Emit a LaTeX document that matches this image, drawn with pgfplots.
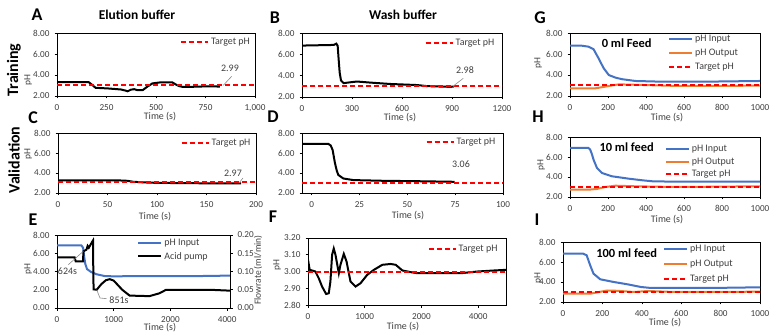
\documentclass[border=0pt]{standalone}
\usepackage{pgfplots}
\pgfplotsset{compat=1.18}
\usepackage{fontspec}
\setmainfont{Carlito}
\definecolor{xlblue}{HTML}{4472C4}
\definecolor{xlorange}{HTML}{ED7D31}
\definecolor{xlred}{HTML}{FF0000}
\definecolor{lbl}{HTML}{404040}
\definecolor{ldr}{HTML}{8C8C8C}
\pgfplotsset{
  panel/.style={
    scale only axis, anchor=south west,
    axis line style={black, line width=0.9bp},
    /pgf/number format/assume math mode=true,
    /pgf/number format/1000 sep={},
    tick label style={font=\fontsize{9.2}{10}\selectfont, text=lbl},
    xticklabel style={yshift=-2.5bp},
    yticklabel style={xshift=-1.5bp, /pgf/number format/fixed, /pgf/number format/fixed zerofill, /pgf/number format/precision=2},
    xtick pos=left, ytick pos=left,
    tick align=outside, major tick length=2.5bp,
    tick style={black, line width=0.6bp},
    legend style={draw=none, fill=none, inner sep=0pt, font=\fontsize{10}{11}\selectfont, text=lbl},
    legend cell align=left,
    legend image code/.code={\draw[##1] (0bp,0bp) -- (27bp,0bp);},
  },
  glegend/.style={
    legend image code/.code={\draw[##1] (0bp,0bp) -- (23bp,0bp);},
    legend style={row sep=#1},
  },
  trace/.style={draw=black, line width=2bp, forget plot},
  target/.style={draw=xlred, line width=2bp, dash pattern=on 5bp off 3bp},
  inp/.style={draw=xlblue, line width=2bp},
  outp/.style={draw=xlorange, line width=2bp},
}
\begin{document}
\begin{tikzpicture}
\useasboundingbox (0,0) rectangle (770bp,335bp);
\fill[white] (0,0) rectangle (770bp,335bp);

% ---------- A ----------
\begin{axis}[panel, at={(57bp,239bp)}, width=198bp, height=63bp,
  xmin=0, xmax=1000, ymin=2, ymax=8,
  xtick={0,250,500,750,1000}, xticklabels={0,250,500,750,{1,000}}, ytick={2,4,6,8},
  legend style={at={(0.985,0.857)}, anchor=east}]
\addplot[trace] coordinates {(0,3.32)(160,3.32)(175,3.1)(195,2.78)(257,2.72)(323,2.62)(345,2.52)(357,2.45)(373,2.6)(390,2.65)(407,2.55)(432,2.55)(457,2.9)(482,3.2)(523,3.3)(582,3.3)(600,3.1)(615,2.95)(632,2.88)(690,2.88)(757,2.92)(823,2.9)};
\addplot[target] coordinates {(0,3)(1000,3)};
\addlegendentry{Target pH}
\end{axis}

% ---------- B ----------
\begin{axis}[panel, at={(302bp,238bp)}, width=200bp, height=64bp,
  xmin=0, xmax=1200, ymin=2, ymax=8,
  xtick={0,300,600,900,1200}, ytick={2,4,6,8},
  legend style={at={(0.973,0.844)}, anchor=east}]
\addplot[trace] coordinates {(0,6.82)(190,6.88)(206,7.0)(214,6.8)(220,5.5)(226,4.3)(234,3.55)(250,3.3)(290,3.38)(330,3.45)(410,3.35)(530,3.22)(690,3.12)(750,3.02)(890,2.95)(910,2.98)};
\addplot[target] coordinates {(0,3)(1200,3)};
\addlegendentry{Target pH}
\end{axis}

% ---------- C ----------
\begin{axis}[panel, at={(58bp,142bp)}, width=198bp, height=60bp,
  xmin=0, xmax=200, ymin=2, ymax=8,
  xtick={0,50,100,150,200}, ytick={2,4,6,8},
  legend style={at={(0.983,0.828)}, anchor=east}]
\addplot[trace] coordinates {(0,3.27)(59,3.27)(70,3.22)(76,3.12)(93,3.03)(127,2.98)(185,2.96)};
\addplot[target] coordinates {(0,3.08)(200,3.08)};
\addlegendentry{Target pH}
\end{axis}

% ---------- D ----------
\begin{axis}[panel, at={(302bp,142bp)}, width=201bp, height=60bp,
  xmin=-5, xmax=100, ymin=2, ymax=8,
  xtick={0,25,50,75,100}, ytick={2,4,6,8},
  legend style={at={(0.973,0.845)}, anchor=east}]
\addplot[trace] coordinates {(-5,6.9)(8.7,6.92)(10,6.75)(11,6.3)(12.2,5.0)(13.2,4.2)(14,3.8)(16.6,3.45)(21.9,3.29)(37.6,3.22)(55,3.18)(74.7,3.12)};
\addplot[target] coordinates {(-5,3)(100,3)};
\addlegendentry{Target pH}
\end{axis}

% ---------- E ----------
\begin{axis}[panel, at={(57bp,27bp)}, width=173bp, height=73bp,
  xmin=0, xmax=3050, ymin=0, ymax=8,
  xtick={0,1000,2000,3000}, xticklabels={0,1000,2000,4000}, ytick={0,2,4,6,8}]
\addplot[inp] coordinates {(0,6.86)(430,6.86)(460,6.6)(480,5.6)(500,4.8)(530,4.26)(600,3.95)(696,3.7)(842,3.5)(1000,3.47)(1500,3.5)(2000,3.5)(2500,3.5)(3050,3.55)};
\end{axis}
\begin{axis}[panel, at={(57bp,27bp)}, width=173bp, height=73bp,
  xmin=0, xmax=3050, ymin=0, ymax=0.2,
  axis x line=none, axis y line*=right,
  ytick pos=right, yticklabel pos=right,
  ytick={0,0.05,0.1,0.15,0.2},
  yticklabel style={xshift=3bp},
  glegend=1bp,
  legend style={at={(0.884,0.97)}, anchor=north east}]
\addlegendimage{inp}
\addlegendentry{pH Input}
\addplot[draw=black, line width=2bp] coordinates {(0,0.139)(310,0.139)(330,0.1275)(460,0.1275)(465,0.155)(520,0.16)(540,0.17)(560,0.165)(625,0.1825)(635,0.185)(640,0.1)(645,0.051)(700,0.05)(780,0.065)(860,0.076)(930,0.079)(1000,0.075)(1150,0.05)(1280,0.034)(1630,0.0325)(1800,0.04)(1925,0.05)(2685,0.05)(3050,0.0475)};
\addlegendentry{Acid pump}
\end{axis}

% ---------- F ----------
\begin{axis}[panel, at={(308bp,30bp)}, width=198bp, height=67bp,
  xmin=0, xmax=3490, ymin=2.8, ymax=3.2,
  xtick={0,1000,2000,3000}, xticklabels={0,1000,2000,4000}, ytick={2.8,2.9,3.0,3.1,3.2},
  legend style={at={(0.968,0.84)}, anchor=east}]
\addplot[trace] coordinates {(0,3.07)(30,3.01)(71,3.006)(130,3.0)(189,2.96)(248,2.91)(319,2.866)(366,2.87)(395,2.94)(425,3.10)(454,3.137)(484,3.10)(543,2.99)(572,3.04)(631,3.105)(679,3.06)(749,2.94)(838,2.91)(926,2.93)(1044,2.98)(1162,3.01)(1310,3.04)(1457,3.045)(1546,3.04)(1664,3.006)(1811,2.996)(1929,2.99)(2283,2.99)(2696,2.99)(2991,3.0)(3227,3.005)(3490,3.01)};
\addplot[target] coordinates {(0,3)(3490,3)};
\addlegendentry{Target pH}
\end{axis}

% ---------- G ----------
\begin{axis}[panel, at={(570bp,239bp)}, width=190bp, height=63bp,
  xmin=0, xmax=1000, ymin=2, ymax=8,
  xtick={0,200,400,600,800,1000}, ytick={2,4,6,8},
  glegend=2bp,
  legend style={at={(0.895,1.0)}, anchor=north east}]
\addplot[inp] coordinates {(0,6.79)(62,6.79)(97,6.7)(124,6.45)(150,5.6)(177,4.65)(204,4.0)(239,3.75)(274,3.6)(345,3.43)(469,3.37)(735,3.37)(1000,3.43)};
\addlegendentry{pH Input}
\addplot[outp] coordinates {(0,2.73)(133,2.73)(204,2.95)(257,3.11)(380,3.05)(558,2.96)(1000,2.98)};
\addlegendentry{pH Output}
\addplot[target] coordinates {(0,3)(1000,3)};
\addlegendentry{Target pH}
\end{axis}

% ---------- H ----------
\begin{axis}[panel, at={(570bp,138bp)}, width=190bp, height=60bp,
  xmin=0, xmax=1000, ymin=2, ymax=8,
  xtick={0,200,400,600,800,1000}, ytick={2,4,6,8},
  glegend=0.5bp,
  legend style={at={(0.877,0.9)}, anchor=north east}]
\addplot[inp] coordinates {(0,6.9)(97,6.9)(106,6.75)(115,6.3)(124,5.73)(142,4.9)(168,4.4)(221,4.07)(310,3.83)(381,3.67)(434,3.57)(558,3.53)(1000,3.53)};
\addlegendentry{pH Input}
\addplot[outp] coordinates {(0,2.73)(97,2.73)(140,2.8)(186,3.0)(239,3.13)(345,3.07)(558,3.0)(1000,3.07)};
\addlegendentry{pH Output}
\addplot[target] coordinates {(0,3)(1000,3)};
\addlegendentry{Target pH}
\end{axis}

% ---------- I ----------
\begin{axis}[panel, at={(563bp,33bp)}, width=197bp, height=60bp,
  xmin=0, xmax=1000, ymin=2, ymax=8,
  xtick={0,200,400,600,800,1000}, ytick={2,4,6,8},
  glegend=3bp,
  legend style={at={(0.873,0.98)}, anchor=north east}]
\addplot[inp] coordinates {(0,6.83)(103,6.83)(120,6.67)(138,5.67)(155,4.83)(189,4.27)(258,4.0)(327,3.77)(396,3.5)(447,3.4)(740,3.4)(1000,3.47)};
\addlegendentry{pH Input}
\addplot[outp] coordinates {(0,2.83)(138,2.83)(224,3.15)(275,3.12)(361,3.0)(430,3.1)(568,3.0)(1000,3.03)};
\addlegendentry{pH Output}
\addplot[target] coordinates {(0,3)(1000,3)};
\addlegendentry{Target pH}
\end{axis}

% ---------- text ----------
\begin{scope}[every node/.style={inner sep=0pt}]
\foreach \l/\x/\y in {A/37/320, B/275/317, C/33/217, D/273/218, E/33/115, F/273/118, G/540/317, H/538/218, I/537/115}
  \node[font=\bfseries\fontsize{18}{18}\selectfont] at (\x bp,\y bp) {\l};
\node[font=\bfseries\fontsize{13.5}{14}\selectfont] at (137bp,320bp) {Elution buffer};
\node[font=\bfseries\fontsize{13.5}{14}\selectfont] at (403bp,320bp) {Wash buffer};
\node[font=\bfseries\fontsize{16}{16}\selectfont, rotate=90] at (14bp,265bp) {Training};
\node[font=\bfseries\fontsize{16}{16}\selectfont, rotate=90] at (14bp,175bp) {Validation};
\foreach \x/\y in {28/255, 28/181, 28/66, 277/70, 538/272, 541/170, 538/57}
  \node[font=\fontsize{9.5}{10}\selectfont, text=lbl, rotate=90] at (\x bp,\y bp) {pH};
\node[font=\fontsize{9.5}{10}\selectfont, text=lbl, rotate=90] at (258bp,65bp) {Flowrate (ml/min)};
\foreach \x/\y in {160/218, 400/217, 155/118, 408/119, 160/7, 403/8, 667/217, 667/115, 665/12}
  \node[font=\fontsize{10}{11}\selectfont, text=lbl] at (\x bp,\y bp) {Time (s)};
\node[font=\bfseries\fontsize{12.5}{13}\selectfont] at (626.7bp,292.3bp) {0 ml Feed};
\node[font=\bfseries\fontsize{12.5}{13}\selectfont] at (626.7bp,188.3bp) {10 ml feed};
\node[font=\bfseries\fontsize{12.5}{13}\selectfont] at (626.7bp,81.7bp) {100 ml feed};
% value annotations
\draw[ldr, line width=0.6bp] (223.3bp,249.7bp) -- (231.7bp,258.7bp);
\node[font=\fontsize{10}{11}\selectfont, text=lbl] at (230bp,267bp) {2.99};
\draw[ldr, line width=0.6bp] (453.3bp,249bp) -- (463.3bp,256.7bp);
\node[font=\fontsize{10}{11}\selectfont, text=lbl] at (465bp,265bp) {2.98};
\draw[ldr, line width=0.6bp] (239bp,152bp) -- (243bp,157bp);
\node[font=\fontsize{10}{11}\selectfont, text=lbl] at (233bp,161.7bp) {2.97};
\node[font=\fontsize{10}{11}\selectfont, text=lbl] at (461bp,171bp) {3.06};
\draw[ldr, line width=0.6bp] (68.3bp,70.3bp) -- (83.3bp,83.7bp);
\node[font=\fontsize{10}{11}\selectfont, text=lbl] at (67.5bp,63.7bp) {624s};
\draw[ldr, line width=0.6bp] (96.7bp,45.3bp) -- (100bp,37bp) -- (106.7bp,36.3bp);
\node[font=\fontsize{10}{11}\selectfont, text=lbl] at (119bp,35bp) {851s};
\end{scope}
\end{tikzpicture}
\end{document}
